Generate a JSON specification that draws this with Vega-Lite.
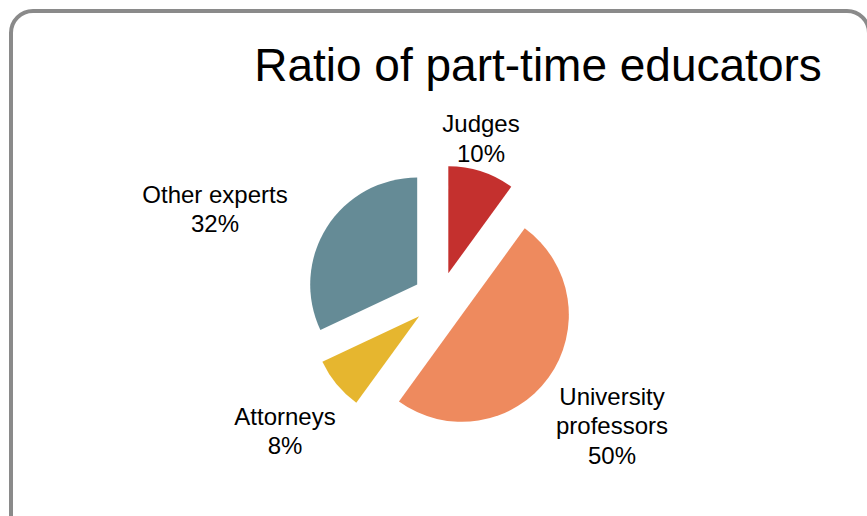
{
  "$schema": "https://vega.github.io/schema/vega-lite/v6.json",
  "width": 858,
  "height": 576,
  "autosize": "none",
  "padding": {"left": 11, "top": 11, "right": -2, "bottom": -71},
  "background": "white",
  "view": {"stroke": "#8a8a8a", "strokeWidth": 4, "cornerRadius": 22, "fill": "white"},
  "title": {
    "text": "Ratio of part-time educators",
    "font": "Liberation Sans",
    "fontSize": 46,
    "fontWeight": "normal",
    "color": "#000000",
    "anchor": "middle",
    "frame": "group",
    "baseline": "alphabetic",
    "offset": 0,
    "dx": 98,
    "dy": 116
  },
  "config": {
    "view": {"stroke": "#8a8a8a", "strokeWidth": 4, "cornerRadius": 22},
    "font": "Liberation Sans",
    "text": {"fontSize": 24, "lineHeight": 29.5, "lineBreak": "\n", "color": "#000000", "align": "center", "baseline": "middle"}
  },
  "data": {
    "values": [
      {"category": "Judges", "value": 10, "order": 1, "label": "Judges\n10%"},
      {"category": "University professors", "value": 50, "order": 2, "label": "University\nprofessors\n50%"},
      {"category": "Attorneys", "value": 8, "order": 3, "label": "Attorneys\n8%"},
      {"category": "Other experts", "value": 32, "order": 4, "label": "Other experts\n32%"}
    ]
  },
  "transform": [
    {"stack": "value", "groupby": [], "sort": [{"field": "order", "order": "ascending"}], "as": ["v0", "v1"]}
  ],
  "layer": [
    {
      "mark": {
        "type": "arc",
        "outerRadius": 107,
        "xOffset": {"expr": "27*sin(scale('theta', (datum.v0+datum.v1)/2))"},
        "yOffset": {"expr": "-27*cos(scale('theta', (datum.v0+datum.v1)/2))"}
      },
      "encoding": {
        "theta": {"field": "v0", "type": "quantitative", "scale": {"domain": [0, 100]}},
        "theta2": {"field": "v1"},
        "color": {
          "field": "category",
          "type": "nominal",
          "scale": {
            "domain": ["Judges", "University professors", "Attorneys", "Other experts"],
            "range": ["#c4302e", "#ee8a5e", "#e6b62f", "#658b96"]
          },
          "legend": null
        }
      }
    },
    {
      "transform": [{"filter": "datum.category === 'Judges'"}],
      "mark": {"type": "text", "radius": 164.4, "dy": -14.75, "theta": {"expr": "scale('theta', (datum.v0+datum.v1)/2) - 0.0621"}},
      "encoding": {"text": {"field": "label", "type": "nominal"}}
    },
    {
      "transform": [{"filter": "datum.category === 'University professors'"}],
      "mark": {"type": "text", "radius": 214.7, "dy": -29.5, "theta": {"expr": "scale('theta', (datum.v0+datum.v1)/2) + 0.0133"}},
      "encoding": {"text": {"field": "label", "type": "nominal"}}
    },
    {
      "transform": [{"filter": "datum.category === 'Attorneys'"}],
      "mark": {"type": "text", "radius": 204.7, "dy": -14.75, "theta": {"expr": "scale('theta', (datum.v0+datum.v1)/2) - 0.0208"}},
      "encoding": {"text": {"field": "label", "type": "nominal"}}
    },
    {
      "transform": [{"filter": "datum.category === 'Other experts'"}],
      "mark": {"type": "text", "radius": 241.7, "dy": -14.75, "theta": {"expr": "scale('theta', (datum.v0+datum.v1)/2) - 0.1916"}},
      "encoding": {"text": {"field": "label", "type": "nominal"}}
    }
  ]
}
